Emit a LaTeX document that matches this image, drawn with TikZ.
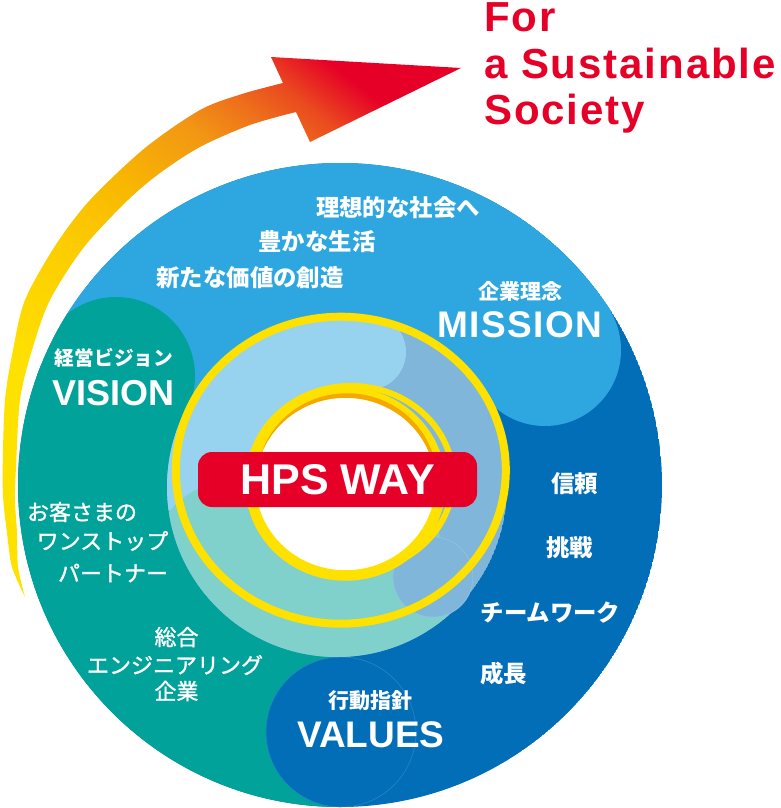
\documentclass[tikz,border=0pt]{standalone}
\usepackage{fontspec}
\setmainfont{Liberation Sans}
\newfontfamily\cjk{Noto Sans CJK JP}
\newfontfamily\cjkm{Noto Sans CJK JP}[FakeBold=1.2]
\definecolor{lblue}{HTML}{2EA7E0}
\definecolor{dblue}{HTML}{036EB8}
\definecolor{tealc}{HTML}{00A29A}
\definecolor{plblue}{HTML}{97D3EF}
\definecolor{psteel}{HTML}{81B6DB}
\definecolor{pteal}{HTML}{80D0CC}
\definecolor{ringy}{HTML}{FFE100}
\definecolor{ringo}{HTML}{F4A800}
\definecolor{hred}{HTML}{E60027}
\definecolor{ayA}{HTML}{FFE100}
\definecolor{ayB}{HTML}{FCCC00}
\definecolor{ayC}{HTML}{F8B800}
\definecolor{ayD}{HTML}{F29614}
\definecolor{ayE}{HTML}{EE701B}
\definecolor{ayF}{HTML}{EA4A1F}
\pgfdeclarehorizontalshading{arrowshade}{100bp}{color(0bp)=(ayA); color(40bp)=(ayA); color(48bp)=(ayB); color(53bp)=(ayC); color(58.5bp)=(ayD); color(61.5bp)=(ayE); color(64bp)=(ayF); color(67bp)=(hred); color(100bp)=(hred)}
\tikzset{
  jt/.style={text=white, inner sep=0pt, font=\cjk\bfseries\fontsize{23.4}{26}\selectfont},
  jsm/.style={text=white, inner sep=0pt, font=\cjkm\fontsize{22}{24}\selectfont},
  jl/.style={text=white, inner sep=0pt, font=\cjk\bfseries\fontsize{21}{24}\selectfont},
  en/.style={text=white, inner sep=0pt, font=\bfseries\fontsize{37}{40}\selectfont},
  tag/.style={text=hred, inner sep=0pt, anchor=base west, font=\bfseries\fontsize{42}{46}\selectfont\addfontfeature{LetterSpace=4.5}},
  hpsbox/.style={fill=hred, text=white, rounded corners=14pt, minimum width=279pt, minimum height=55pt, inner sep=0pt, font=\bfseries\fontsize{43}{44}\selectfont},
  faint/.style={line width=0.6pt}
}
\begin{document}
\begin{tikzpicture}[x=1pt,y=-1pt]
\useasboundingbox (0,0) rectangle (780,808);
% arrow
\begin{scope}
\clip plot[smooth] coordinates {(25,597) (12,567) (7,533) (3.3,500) (2.7,467) (5,400) (13,350) (25,300) (55,246) (90,200) (145,148) (200,110) (242,94) (283,83)} -- (271,57) -- (461,68) -- (310,142) -- (296,112) -- plot[smooth] coordinates {(296,112) (250,125) (200,147) (160,173) (128,200) (84,247) (50,300) (32,350) (20,400) (16,467) (15,500) (17,533) (18,567) (25,597)} -- cycle;
\shade[shading=arrowshade, shading angle=52] (-170,-70) rectangle (630,730);
\end{scope}
% big circle regions
\begin{scope}
\clip (340,485) circle[radius=322];
\fill[dblue] (340,485) circle[radius=322];
\fill[lblue] (0,100) -- (700,100) -- (700,250) -- (610,313) -- (545,350) -- (470,430) -- (0,430) -- cycle;
\fill[lblue] (545,350) circle[radius=76];
\fill[tealc] (116,376) circle[radius=79];
\fill[tealc] (0,360) -- (116,376) -- (192,403) -- (250,550) -- (335,655) -- (335,820) -- (0,820) -- cycle;
\draw[faint, draw=dblue!85!white, fill=dblue] (341,732) circle[radius=75];
\end{scope}
% pale disc
\begin{scope}
\clip (337,487) circle[radius=170];
\fill[psteel] (337,487) circle[radius=170];
\fill[plblue] (150,300) -- (368,300) -- (368,352) -- (340,430) -- (250,470) -- (150,520) -- cycle;
\fill[plblue] (368,352) circle[radius=38];
\fill[pteal] (150,545) .. controls (170,500) and (190,488) .. (230,478) -- (430,470) -- (440,540) -- (433,577) -- (460,640) -- (520,700) -- (150,700) -- cycle;
\end{scope}
\draw[faint, draw=psteel!85!white, fill=psteel] (433,577) circle[radius=40];
% outer yellow ring
\draw[ringy, line width=8pt] (340.8,470.2) ellipse[x radius=165, y radius=153.5];
% inner ring
\draw[ringy, line width=6pt] (351,479) ellipse[x radius=102, y radius=93];
\draw[ringy, line width=10.5pt, fill=white] (345.5,484) ellipse[x radius=95, y radius=91.5];
\begin{scope}
\clip (200,300) rectangle (500,460);
\fill[ringo, even odd rule] (347,479.5) ellipse[x radius=89.75, y radius=86.25] (345.5,484) ellipse[x radius=89.75, y radius=86.25];
\end{scope}
% HPS WAY
\node[hpsbox] (hps) at (337.5,479.5) {HPS WAY};
% texts
\node[tag] (t1) at (484,31.7) {For};
\node[tag] (t2) at (484,78.3) {a Sustainable};
\node[tag] (t3) at (484,124) {Society};
\node[jt] (m1) at (398,208) {理想的な社会へ};
\node[jt] (m2) at (317,242) {豊かな生活};
\node[jt] (m3) at (250,278) {新たな価値の創造};
\node[jl] (ml) at (520,291) {企業理念};
\node[en, font=\bfseries\fontsize{37}{40}\selectfont\addfontfeature{LetterSpace=3.7}] (mission) at (520,325) {MISSION};
\node[jl, font=\cjk\bfseries\fontsize{19.7}{22}\selectfont] (vl) at (114,358) {経営ビジョン};
\node[en, font=\bfseries\fontsize{36}{40}\selectfont] (vision) at (113.5,393) {VISION};
\node[jl] (al) at (370,701) {行動指針};
\node[en] (values) at (371,734.5) {VALUES};
\node[jt] (r1) at (574.5,484) {信頼};
\node[jt] (r2) at (569.5,548) {挑戦};
\node[jt] (r3) at (550.5,612.5) {チームワーク};
\node[jt] (r4) at (503.5,674) {成長};
\node[jsm] (l1) at (82,512) {お客さまの};
\node[jsm] (l2) at (102.5,541) {ワンストップ};
\node[jsm] (l3) at (113,573) {パートナー};
\node[jsm] (l4) at (176.5,637) {総合};
\node[jsm] (l5) at (175,665) {エンジニアリング};
\node[jsm] (l6) at (176.5,691) {企業};
\end{tikzpicture}
\end{document}
